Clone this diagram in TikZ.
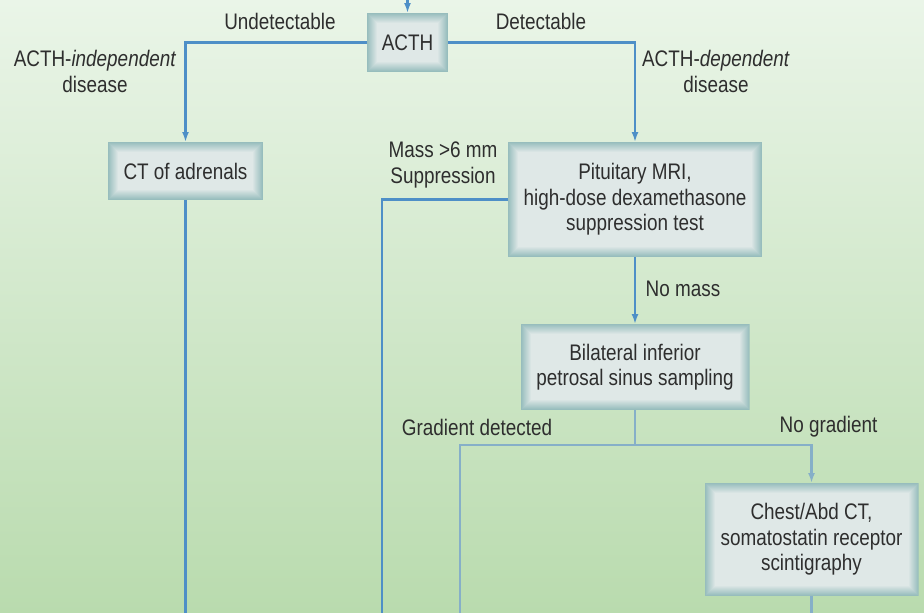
\documentclass[tikz,border=0pt]{standalone}
\usepackage{fontspec}
\setmainfont[FakeStretch=0.84]{Liberation Sans}
\usetikzlibrary{arrows.meta}
\definecolor{bgtop}{HTML}{EAF5E8}
\definecolor{bgmid}{HTML}{CDE6C4}
\definecolor{bgbot}{HTML}{B9DBAE}
\definecolor{lineblue}{HTML}{4E8FC7}
\definecolor{linepale}{HTML}{86AFC8}
\definecolor{bxedge}{HTML}{97BDBD}
\definecolor{bxin}{HTML}{DFE8E7}
\definecolor{txt}{HTML}{2E2E2E}
\tikzset{
  boxnode/.style={inner sep=0pt, outer sep=0pt, align=center, text=txt,
    font=\fontsize{22.5}{25.5}\selectfont,
    path picture={
      \foreach \d in {0,1,...,10}{
        \pgfmathsetmacro\p{100-10*\d}
        \fill[bxedge!\p!bxin] ([xshift=\d pt,yshift=\d pt]path picture bounding box.south west)
          rectangle ([xshift=-\d pt,yshift=-\d pt]path picture bounding box.north east);
      }
    }},
  lbl/.style={inner sep=0pt, align=center, text=txt, font=\fontsize{22.5}{26}\selectfont},
  conn/.style={draw=lineblue, line width=2.5pt},
  connp/.style={draw=linepale, line width=2.5pt},
  arr/.style={-{Latex[length=10pt,width=7pt]}}
}
\begin{document}
\begin{tikzpicture}[x=1pt,y=-1pt]
\shade[top color=bgtop, middle color=bgmid, bottom color=bgbot] (0,0) rectangle (924,613);
\useasboundingbox (0,0) rectangle (924,613);

% boxes
\node[boxnode, minimum width=81pt, minimum height=59pt] (acth) at (407.5,42.5) {ACTH};
\node[boxnode, minimum width=155pt, minimum height=58pt] (ct) at (185.5,171) {CT of adrenals};
\node[boxnode, minimum width=254pt, minimum height=115pt] (pit) at (635,199.5) {Pituitary MRI,\\high-dose dexamethasone\\suppression test};
\node[boxnode, minimum width=229pt, minimum height=86pt] (bil) at (635,367) {Bilateral inferior\\petrosal sinus sampling};
\node[boxnode, minimum width=214pt, minimum height=113pt] (chest) at (811.5,539.5) {Chest/Abd CT,\\somatostatin receptor\\scintigraphy};

% free ends
\coordinate (top) at (407.5,0);
\coordinate (c0) at (185.5,613);
\coordinate (c1) at (382,613);
\coordinate (c2) at (460,613);
\coordinate (c3) at (811.5,613);
\coordinate (j) at (635,445);

% connectors
\draw[conn, arr] (top) -- (acth.north);
\draw[conn, arr] (acth.west) -| (ct.north);
\draw[conn, arr] (acth.east) -| (pit.north);
\draw[conn] (ct.south) -- (c0);
\draw[conn] (pit.west) -| (c1);
\draw[conn, arr] (pit.south) -- (bil.north);
\draw[connp] (bil.south) -- (j);
\draw[connp] (j) -| (c2);
\draw[connp, arr] (j) -| (chest.north);
\draw[connp] (chest.south) -- (c3);

% labels
\node[lbl] (l1) at (280,21) {Undetectable};
\node[lbl] (l2) at (541,21) {Detectable};
\node[lbl] (l3) at (95,71) {ACTH-\textit{independent}\\disease};
\node[lbl] (l4) at (716,71) {ACTH-\textit{dependent}\\disease};
\node[lbl] (l5) at (443,165) {Mass >6 mm\\Suppression};
\node[lbl] (l6) at (683,289) {No mass};
\node[lbl] (l7) at (477,427) {Gradient detected};
\node[lbl] (l8) at (828.5,427) {No gradient};
\end{tikzpicture}
\end{document}
